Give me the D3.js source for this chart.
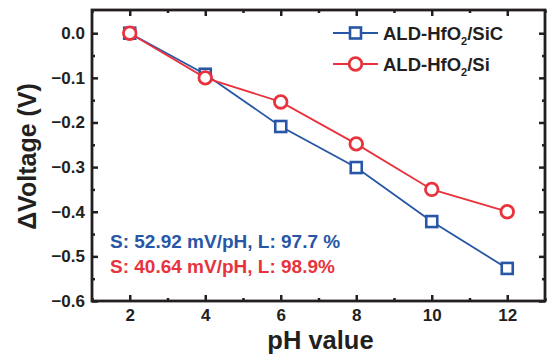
<!DOCTYPE html>
<html lang="en">
<head>
    <meta charset="UTF-8">
    <title>pH sensitivity</title>
    <script src="https://d3js.org/d3.v7.min.js"></script>
    <style>
        body { margin: 0; background: #fff; }
        text { font-family: "Liberation Sans", Arial, sans-serif; font-weight: bold; fill: #231f20; }
    </style>
</head>
<body>
    <div id="chart"></div>
    <script>
        const phValues = [2, 4, 6, 8, 10, 12];
        const sicVoltage = [0, -0.092, -0.209, -0.301, -0.422, -0.527];
        const siVoltage = [0, -0.1, -0.154, -0.248, -0.35, -0.4];
        const xTicks = [2, 4, 6, 8, 10, 12];
        const yTicks = [0, -0.1, -0.2, -0.3, -0.4, -0.5, -0.6];
        const seriesNames = ["ALD-HfO", "/SiC", "/Si"];
        const notes = ["S: 52.92 mV/pH, L: 97.7 %", "S: 40.64 mV/pH, L: 98.9%"];

        const blue = "#2756a6", red = "#e8333d", ink = "#231f20";
        const W = 547, H = 356;
        const margin = {top: 10, right: 2, bottom: 55, left: 92},
            width = W - margin.left - margin.right,
            height = H - margin.top - margin.bottom;

        const svg = d3.select('#chart')
            .append('svg')
                .attr('width', W)
                .attr('height', H)
            .append('g')
                .attr('transform', `translate(${margin.left}, ${margin.top})`);

        const x = d3.scaleLinear().domain([1, 13]).range([0, width]);
        const y = d3.scaleLinear().domain([-0.6, 0.052]).range([height, 0]);

        // ticks on all four sides, pointing in
        const minorX = d3.range(1, 13.01, 1).filter(v => !xTicks.includes(v));
        const minorY = d3.range(-0.55, 0.01, 0.1);
        function axisStyle(g) {
            g.select('.domain').remove();
            g.selectAll('line').attr('stroke', ink).attr('stroke-width', 2.5);
        }
        svg.append('g').attr('transform', `translate(0, ${height})`)
            .call(d3.axisBottom(x).tickValues(xTicks).tickSize(-6).tickPadding(8).tickFormat(d3.format('d')))
            .call(axisStyle)
            .selectAll('text').attr('font-size', 17).attr('fill', ink);
        svg.append('g').attr('transform', `translate(0, ${height})`)
            .call(d3.axisBottom(x).tickValues(minorX).tickSize(-3).tickFormat(''))
            .call(axisStyle);
        svg.append('g')
            .call(d3.axisTop(x).tickValues(xTicks).tickSize(-6).tickFormat(''))
            .call(axisStyle);
        svg.append('g')
            .call(d3.axisTop(x).tickValues(minorX).tickSize(-3).tickFormat(''))
            .call(axisStyle);
        svg.append('g')
            .call(d3.axisLeft(y).tickValues(yTicks).tickSize(-6).tickPadding(7).tickFormat(d3.format('.1f')))
            .call(axisStyle)
            .selectAll('text').attr('font-size', 17).attr('fill', ink);
        svg.append('g')
            .call(d3.axisLeft(y).tickValues(minorY).tickSize(-3).tickFormat(''))
            .call(axisStyle);
        svg.append('g').attr('transform', `translate(${width}, 0)`)
            .call(d3.axisRight(y).tickValues(yTicks).tickSize(-6).tickFormat(''))
            .call(axisStyle);
        svg.append('g').attr('transform', `translate(${width}, 0)`)
            .call(d3.axisRight(y).tickValues(minorY).tickSize(-3).tickFormat(''))
            .call(axisStyle);

        svg.append('rect')
            .attr('width', width).attr('height', height)
            .attr('fill', 'none').attr('stroke', ink).attr('stroke-width', 2.8);

        const line = d3.line().x(d => x(d[0])).y(d => y(d[1]));
        const sic = phValues.map((p, i) => [p, sicVoltage[i]]);
        const si = phValues.map((p, i) => [p, siVoltage[i]]);

        svg.append('path').datum(sic).attr('d', line)
            .attr('fill', 'none').attr('stroke', blue).attr('stroke-width', 1.8);
        svg.selectAll('.sq').data(sic).join('rect')
            .attr('x', d => x(d[0]) - 5.5).attr('y', d => y(d[1]) - 5.5)
            .attr('width', 11).attr('height', 11)
            .attr('fill', '#fff').attr('stroke', blue).attr('stroke-width', 2.6);

        svg.append('path').datum(si).attr('d', line)
            .attr('fill', 'none').attr('stroke', red).attr('stroke-width', 1.8);
        svg.selectAll('.ci').data(si).join('circle')
            .attr('cx', d => x(d[0])).attr('cy', d => y(d[1])).attr('r', 6.3)
            .attr('fill', '#fff').attr('stroke', red).attr('stroke-width', 2.8);

        // legend
        const leg = svg.append('g').attr('transform', 'translate(241, 23)');
        [[blue, 'sq', seriesNames[1]], [red, 'ci', seriesNames[2]]].forEach((s, i) => {
            const g = leg.append('g').attr('transform', `translate(0, ${i * 31})`);
            g.append('line').attr('x1', 0).attr('x2', 45)
                .attr('stroke', s[0]).attr('stroke-width', 1.8);
            if (s[1] === 'sq') {
                g.append('rect').attr('x', 17).attr('y', -5.5).attr('width', 11).attr('height', 11)
                    .attr('fill', '#fff').attr('stroke', s[0]).attr('stroke-width', 2.6);
            } else {
                g.append('circle').attr('cx', 22.5).attr('r', 6.3)
                    .attr('fill', '#fff').attr('stroke', s[0]).attr('stroke-width', 2.8);
            }
            const t = g.append('text').attr('x', 50).attr('y', 6.5).attr('font-size', 18.5);
            t.append('tspan').text(seriesNames[0]);
            t.append('tspan').attr('font-size', 11).attr('dy', 5).text('2');
            t.append('tspan').attr('dy', -5).text(s[2]);
        });

        // sensitivity notes
        svg.append('text').attr('x', 18).attr('y', 238).attr('font-size', 19)
            .attr('fill', blue).style('fill', blue).text(notes[0]);
        svg.append('text').attr('x', 18).attr('y', 263).attr('font-size', 19)
            .attr('fill', red).style('fill', red).text(notes[1]);

        // axis titles
        svg.append('text')
            .attr('x', width / 2 + 2).attr('y', height + 48)
            .attr('text-anchor', 'middle').attr('font-size', 25.5)
            .text('pH value');
        svg.append('text')
            .attr('transform', `translate(-56, ${height / 2 + 1}) rotate(-90)`)
            .attr('text-anchor', 'middle').attr('font-size', 25)
            .text('ΔVoltage (V)');
    </script>
</body>
</html>
